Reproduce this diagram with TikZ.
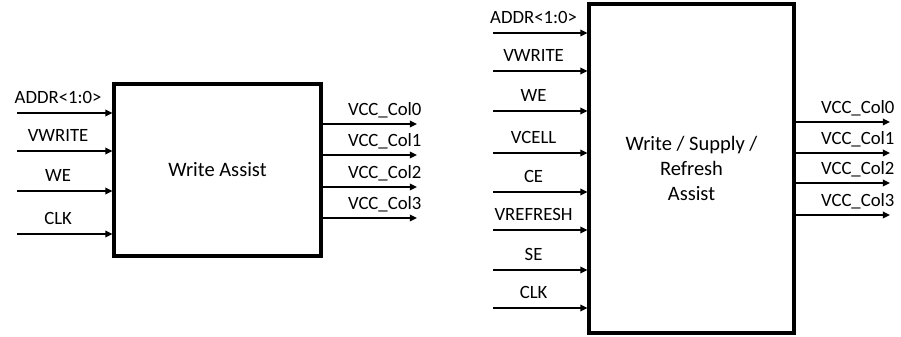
\documentclass[tikz,border=0pt]{standalone}
\usepackage{fontspec}
\setmainfont{Carlito}
\usetikzlibrary{positioning, arrows.meta}

\begin{document}
\begin{tikzpicture}[
    >={Triangle[length=6pt, width=5.5pt]},
    every node/.style={font=\fontsize{16}{19}\selectfont},
    block/.style={
        draw, line width=2.6pt, align=center, inner sep=0pt,
        font=\fontsize{17.5}{21.3}\selectfont
    },
    sig/.style={->, line width=1.8pt},
    inlabel/.style={midway, anchor=base, yshift=0.27cm, xshift=-0.2cm, inner sep=0pt},
    outlabel/.style={midway, anchor=base, yshift=0.24cm, xshift=0.45cm, inner sep=0pt},
]
\useasboundingbox (0,0) rectangle (27.03,10.11);

% =====================================================================
%  LEFT:  Write Assist
% =====================================================================
\node[block, minimum width=6.21cm, minimum height=5.16cm] (WA) at (6.525, 5.01)
    {Write Assist};

% Inputs
\foreach \name/\y [count=\i] in {ADDR<1:0>/6.72, VWRITE/5.58, WE/4.38, CLK/3.09} {
    \coordinate (wa-in\i) at (0.51, \y);
    \draw[sig] (wa-in\i) -- (WA.west |- wa-in\i) node[inlabel] {\name};
}

% Outputs
\foreach \y [count=\i from 0] in {6.39, 5.46, 4.50, 3.57} {
    \coordinate (wa-out\i) at (12.51, \y);
    \draw[sig] (WA.east |- wa-out\i) -- (wa-out\i) node[outlabel] {VCC\_Col\i};
}

% =====================================================================
%  RIGHT:  Write / Supply / Refresh Assist
% =====================================================================
\node[block, minimum width=6.15cm, minimum height=9.87cm] (WSRA) at (20.745, 5.055)
    {Write / Supply /\\Refresh\\Assist};

% Inputs
\foreach \name/\y [count=\i] in {ADDR<1:0>/9.12, VWRITE/7.98, WE/6.78, VCELL/5.52,
                                 CE/4.35, VREFRESH/3.21, SE/2.01, CLK/0.87} {
    \coordinate (wsra-in\i) at (14.79, \y);
    \draw[sig] (wsra-in\i) -- (WSRA.west |- wsra-in\i) node[inlabel] {\name};
}

% Outputs
\foreach \y [count=\i from 0] in {6.45, 5.52, 4.62, 3.66} {
    \coordinate (wsra-out\i) at (26.70, \y);
    \draw[sig] (WSRA.east |- wsra-out\i) -- (wsra-out\i) node[outlabel] {VCC\_Col\i};
}

\end{tikzpicture}
\end{document}
